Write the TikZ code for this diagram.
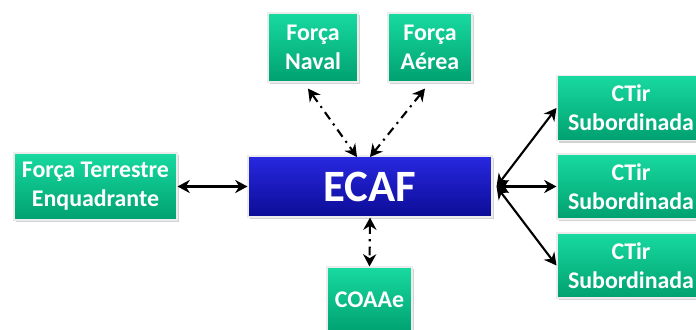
\documentclass[tikz,border=0pt]{standalone}
\usepackage{fontspec}
\setmainfont{Carlito}
\usetikzlibrary{arrows.meta,shadows}
\definecolor{boxtop}{RGB}{24,218,160}
\definecolor{boxbot}{RGB}{0,160,112}
\definecolor{ecaftop}{RGB}{40,40,225}
\definecolor{ecafbot}{RGB}{12,12,150}
\tikzset{
 unit/.style={draw=white!85!gray, line width=.6pt, top color=boxtop, bottom color=boxbot,
   text=white, font=\fontsize{13.6}{16.5}\selectfont\bfseries, align=center, inner sep=0pt,
   drop shadow={shadow xshift=1.2pt, shadow yshift=-1.2pt, opacity=.35, fill=gray}},
 link/.style={very thick, {Stealth[length=7pt,width=7.5pt]}-{Stealth[length=7pt,width=7.5pt]}},
 coord/.style={link, dash pattern=on 5pt off 3pt on 1.2pt off 3pt}
}
\begin{document}
\begin{tikzpicture}[x=0.02cm,y=-0.02cm]
\clip (0,0) rectangle (696,329);
\useasboundingbox (0,0) rectangle (696,329);

\node[unit, minimum width=90*0.02cm, minimum height=69*0.02cm] (naval) at (313,47.5) {Força\\Naval};
\node[unit, minimum width=84*0.02cm, minimum height=69*0.02cm] (aerea) at (430,47.5) {Força\\Aérea};
\node[unit, minimum width=163*0.02cm, minimum height=67*0.02cm] (terrestre) at (95.5,186.5) {Força Terrestre\\Enquadrante};
\node[unit, minimum width=244*0.02cm, minimum height=61*0.02cm, top color=ecaftop, bottom color=ecafbot,
  font=\fontsize{25.5}{28}\selectfont\bfseries] (ecaf) at (370,186.5) {ECAF};
\node[unit, minimum width=85*0.02cm, minimum height=66*0.02cm] (coaae) at (369.5,300) {COAAe};

\foreach \i/\y in {1/108,2/186.5,3/265.5}
{
    \node[unit, minimum width=148*0.02cm, minimum height=65*0.02cm] (ctir\i) at (631,\y) {CTir\\Subordinada};
}

\draw[link] (terrestre) -- (ecaf);
\draw[coord] (naval.south) ++(-5,6) coordinate (n1) (n1) -- (357,157);
\draw[coord] (aerea.south) ++(-5,6) coordinate (a1) (a1) -- (370,157);
\draw[coord] (ecaf.south) -- (coaae.north);
\foreach \i in {1,2,3}
{
    \draw[link] (ecaf.east) ++(4,0) -- (ctir\i.west);
}
\end{tikzpicture}
\end{document}
